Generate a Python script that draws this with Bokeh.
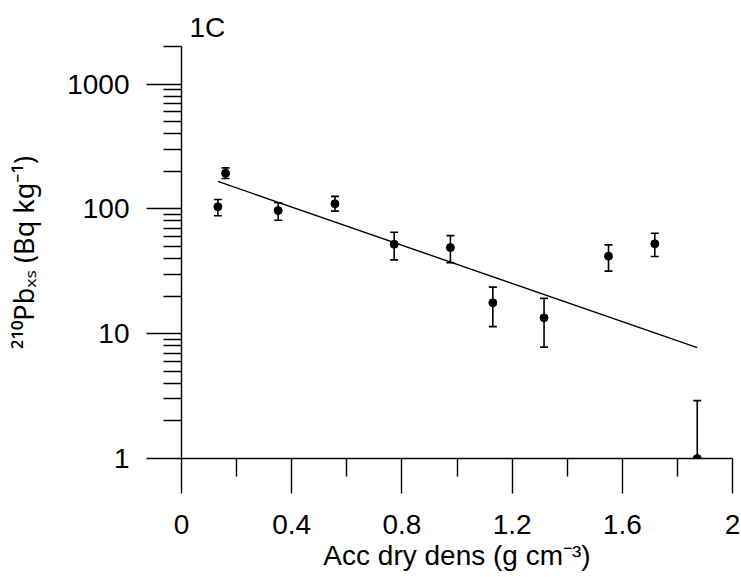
from bokeh.plotting import figure
from bokeh.models import FixedTicker, ColumnDataSource, Range1d
from bokeh.embed import file_html
from bokeh.resources import INLINE

# ---- data ----
acc_dry_dens = [0.132, 0.160, 0.351, 0.557, 0.772, 0.976, 1.130, 1.316, 1.550, 1.718, 1.872]
pb210_xs     = [104,   193,   97,    110,   52,    49,    17.7,  13.4,  41.8,  52.5,  1.0]
err_upper    = [119,   213,   112,   126,   65,    61,    23.6,  19.2,  51.5,  63.8,  2.91]
err_lower    = [88,    175,   81,    96,    39,    37,    11.4,  7.8,   31.7,  41.5,  1.0]

fit_x = [0.132, 1.872]
fit_y = [166, 7.73]

x_ticks = [0, 0.4, 0.8, 1.2, 1.6, 2]
x_tick_labels = ["0", "0.4", "0.8", "1.2", "1.6", "2"]
x_minor = [0.2, 0.6, 1.0, 1.4, 1.8]
y_ticks = [1, 10, 100, 1000]
y_tick_labels = ["1", "10", "100", "1000"]
y_minor = [m * d for d in (1, 10, 100) for m in range(2, 10)] + [2000]

title_text = "1C"
x_title = "Acc dry dens (g cm\u207b\u00b3)"
y_title = "\u00b2\u00b9\u2070Pb\u2093\u209b (Bq kg\u207b\u00b9)"

FONT = "Liberation Sans"
FS = "28px"

W, H = 741, 577
FL, FR, FT, FB = 181, 732, 46, 458   # frame edges in page pixels

p = figure(width=W, height=H, x_range=Range1d(0, 2), y_range=Range1d(1, 2000),
           y_axis_type="log", output_backend="svg", toolbar_location=None,
           min_border_left=FL, min_border_right=W - FR, min_border_top=FT, min_border_bottom=H - FB)
p.xgrid.visible = False
p.ygrid.visible = False
p.outline_line_color = None
p.background_fill_color = "white"
p.border_fill_color = "white"

p.title.text = title_text
p.title.align = "left"
p.title.offset = 8
p.title.standoff = 8
p.title.text_font = FONT
p.title.text_font_size = FS
p.title.text_font_style = "normal"
p.title.text_color = "black"

for ax in (p.xaxis[0], p.yaxis[0]):
    ax.axis_line_color = "black"
    ax.axis_line_width = 1.4
    ax.major_tick_line_color = "black"
    ax.minor_tick_line_color = "black"
    ax.major_tick_line_width = 1.4
    ax.minor_tick_line_width = 1.4
    ax.major_tick_in = 0
    ax.major_tick_out = 35
    ax.minor_tick_in = 0
    ax.minor_tick_out = 18
    ax.major_label_text_font = FONT
    ax.major_label_text_font_size = FS
    ax.major_label_text_color = "black"
    ax.axis_label_text_font = FONT
    ax.axis_label_text_font_size = FS
    ax.axis_label_text_font_style = "normal"
    ax.axis_label_text_color = "black"

p.xaxis.ticker = FixedTicker(ticks=x_ticks, minor_ticks=x_minor)
p.xaxis.major_label_overrides = {t: s for t, s in zip(x_ticks, x_tick_labels)}
p.xaxis.major_label_standoff = 21
p.xaxis.axis_label = x_title
p.xaxis.axis_label_standoff = 3

p.yaxis.ticker = FixedTicker(ticks=y_ticks, minor_ticks=y_minor)
p.yaxis.major_label_overrides = {t: s for t, s in zip(y_ticks, y_tick_labels)}
p.yaxis.major_label_standoff = 17
p.yaxis.axis_label = y_title
p.yaxis.axis_label_text_font = "Noto Sans"
p.yaxis.axis_label_text_font_size = "27px"
p.yaxis.axis_label_standoff = 22

# ---- error bars, fit line and points ----
src = ColumnDataSource(dict(x=acc_dry_dens, y=pb210_xs, upper=err_upper, lower=err_lower))
p.segment(x0="x", y0="lower", x1="x", y1="upper", source=src, line_color="black", line_width=1.6)
p.scatter(x="x", y="upper", source=src, marker="dash", size=8, line_color="black", line_width=1.6)
p.scatter(x="x", y="lower", source=src, marker="dash", size=8, line_color="black", line_width=1.6)
p.line(fit_x, fit_y, line_color="black", line_width=1.4)
p.scatter("x", "y", source=src, size=8, fill_color="black", line_color="black")

open("out.html", "w").write(file_html(p, INLINE))
